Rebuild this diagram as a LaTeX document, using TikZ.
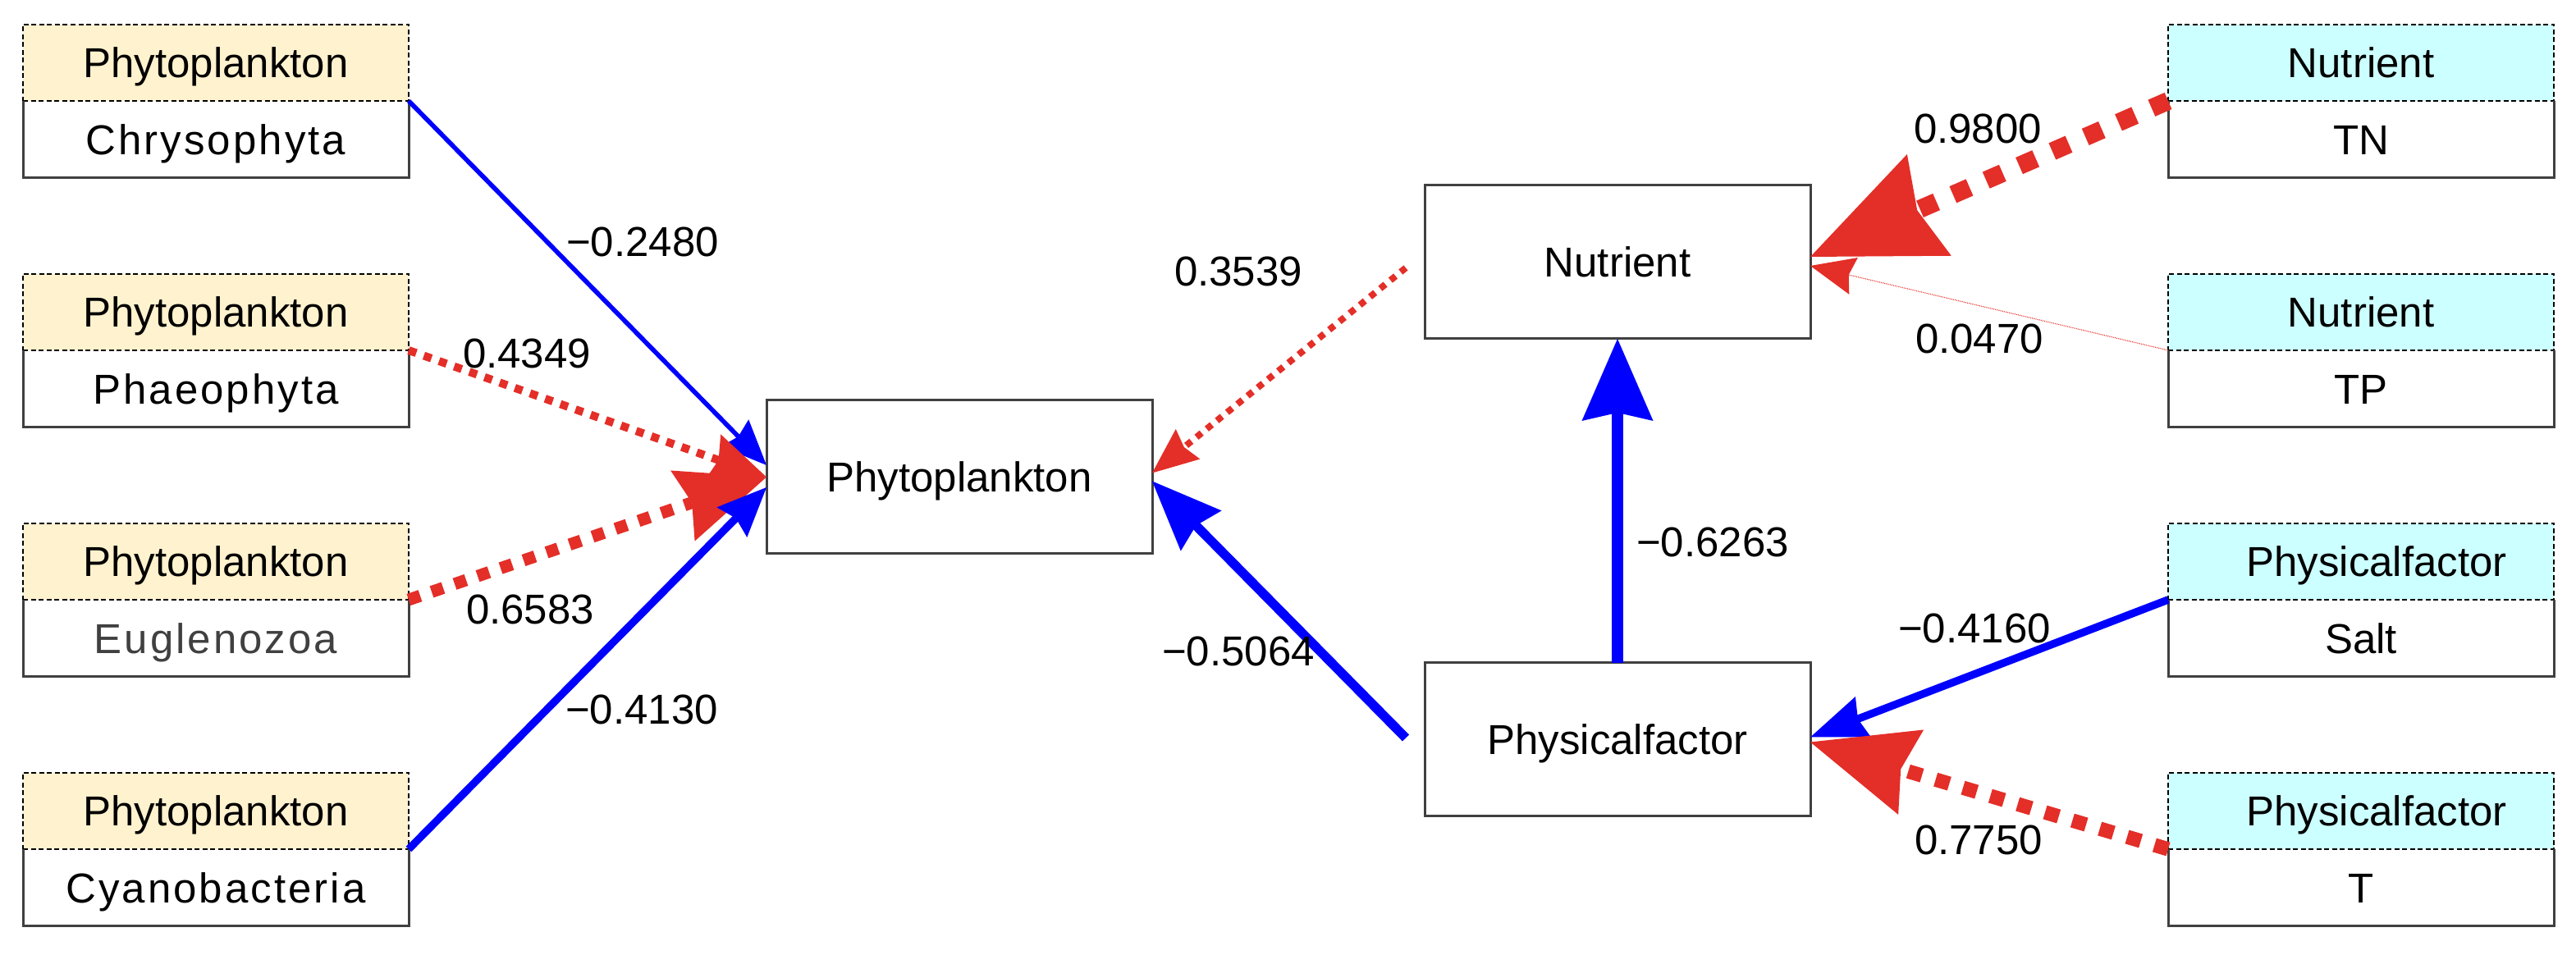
\documentclass[tikz,border=0pt]{standalone}
\usepackage{fontspec}
\setmainfont{Liberation Sans}
\usetikzlibrary{arrows.meta,positioning,calc}

\definecolor{pathred}{RGB}{228,46,40}
\definecolor{pathblue}{RGB}{0,0,255}
\definecolor{phytofill}{RGB}{255,242,206}
\definecolor{envfill}{RGB}{204,255,255}
\definecolor{boxgray}{RGB}{64,64,64}

\tikzset{
  every node/.style={font=\fontsize{14.5}{17}\selectfont, inner sep=0pt, outer sep=0pt},
  hdr/.style={draw=black, line width=0.012cm, dash pattern=on 0.06cm off 0.035cm,
    minimum width=4.7cm, minimum height=0.93cm, text height=10.4pt, text depth=0pt},
  bdy/.style={minimum width=4.7cm, minimum height=0.94cm, text height=10.4pt, text depth=0pt},
  factor/.style={draw=boxgray, line width=0.03cm, minimum width=4.7cm, minimum height=1.87cm,
    text height=10.4pt, text depth=0pt},
  boxline/.style={draw=boxgray, line width=0.03cm},
  coef/.style={text height=10.4pt, text depth=0pt},
  poslink/.style={draw=pathred, line width=#1, dash pattern=on #1 off #1},
  neglink/.style={draw=pathblue, line width=#1},
  arrowhd/.style n args={3}{-{Stealth[length=#1, width=#2, inset=#3, line width=0pt]}},
}

\begin{document}
\begin{tikzpicture}
    \useasboundingbox (0,0) rectangle (31.39,11.64);

    % observed variables, left
    \foreach \nm/\txt/\y in {chry/Chrysophyta/10.875, phae/Phaeophyta/7.835,
        eugl/{\color{black!75}Euglenozoa}/4.795, cyan/Cyanobacteria/1.755} {
        \node[hdr, fill=phytofill] (\nm-h) at (2.63,\y) {Phytoplankton};
        \node[bdy, below=0pt of \nm-h, font=\fontsize{14.5}{17}\selectfont\addfontfeature{LetterSpace=6}] (\nm) {\txt};
        \draw[boxline] (\nm.north west) |- (\nm.south east) -- (\nm.north east);
    }

    % observed variables, right
    \foreach \nm/\grp/\txt/\y in {tn/Nutrient/TN/10.875, tp/Nutrient/TP/7.835,
        salt/{\hspace*{0.38cm}Physicalfactor}/Salt/4.795, temp/{\hspace*{0.38cm}Physicalfactor}/T/1.755} {
        \node[hdr, fill=envfill] (\nm-h) at (28.77,\y) {\grp};
        \node[bdy, below=0pt of \nm-h] (\nm) {\txt};
        \draw[boxline] (\nm.north west) |- (\nm.south east) -- (\nm.north east);
    }

    % latent variables
    \node[factor] (phyto) at (11.69,5.825) {Phytoplankton};
    \node[factor] (nutr) at (19.71,8.445) {Nutrient};
    \node[factor] (phys) at (19.71,2.625) {Physicalfactor};

    % paths
    \draw[neglink=0.056cm, arrowhd={0.55cm}{0.47cm}{0.06cm}] (chry.north east) -- ($(phyto.west)+(0,0.145)$);
    \draw[poslink=0.098cm, arrowhd={0.70cm}{0.61cm}{0.08cm}] (phae.north east) -- (phyto.west);
    \draw[poslink=0.148cm, arrowhd={1.08cm}{0.91cm}{0.12cm}] (eugl.north east) -- (phyto.west);
    \draw[neglink=0.093cm, arrowhd={0.60cm}{0.52cm}{0.07cm}] (cyan.north east) -- ($(phyto.west)+(0,-0.125)$);
    \draw[poslink=0.080cm, arrowhd={0.56cm}{0.47cm}{0.06cm}] ($(nutr.west)+(-0.23,-0.07)$) -- ($(phyto.east)+(0,0.05)$);
    \draw[neglink=0.114cm, arrowhd={0.85cm}{0.70cm}{0.09cm}] ($(phys.west)+(-0.23,0.02)$) -- ($(phyto.east)+(0,-0.05)$);
    \draw[neglink=0.141cm, arrowhd={1.00cm}{0.87cm}{0.10cm}] (phys.north) -- (nutr.south);
    \draw[poslink=0.220cm, arrowhd={1.58cm}{1.35cm}{0.16cm}] (tn.north west) -- ($(nutr.east)+(0,0.065)$);
    \draw[poslink=0.011cm, arrowhd={0.54cm}{0.46cm}{0.06cm}] (tp.north west) -- ($(nutr.east)+(0,-0.045)$);
    \draw[neglink=0.094cm, arrowhd={0.69cm}{0.53cm}{0.07cm}] (salt.north west) -- ($(phys.east)+(0,0.03)$);
    \draw[poslink=0.174cm, arrowhd={1.28cm}{1.08cm}{0.13cm}] (temp.north west) -- ($(phys.east)+(0,-0.03)$);

    % path coefficients
    \node[coef] (c-chry) at (7.83,8.70) {−0.2480};
    \node[coef] (c-phae) at (6.42,7.34) {0.4349};
    \node[coef] (c-eugl) at (6.46,4.22) {0.6583};
    \node[coef] (c-cyan) at (7.82,3.00) {−0.4130};
    \node[coef] (c-nutr) at (15.09,8.34) {0.3539};
    \node[coef] (c-phys) at (15.09,3.71) {−0.5064};
    \node[coef] (c-pn) at (20.87,5.04) {−0.6263};
    \node[coef] (c-tn) at (24.10,10.08) {0.9800};
    \node[coef] (c-tp) at (24.12,7.52) {0.0470};
    \node[coef] (c-salt) at (24.06,3.99) {−0.4160};
    \node[coef] (c-temp) at (24.11,1.41) {0.7750};
\end{tikzpicture}
\end{document}
